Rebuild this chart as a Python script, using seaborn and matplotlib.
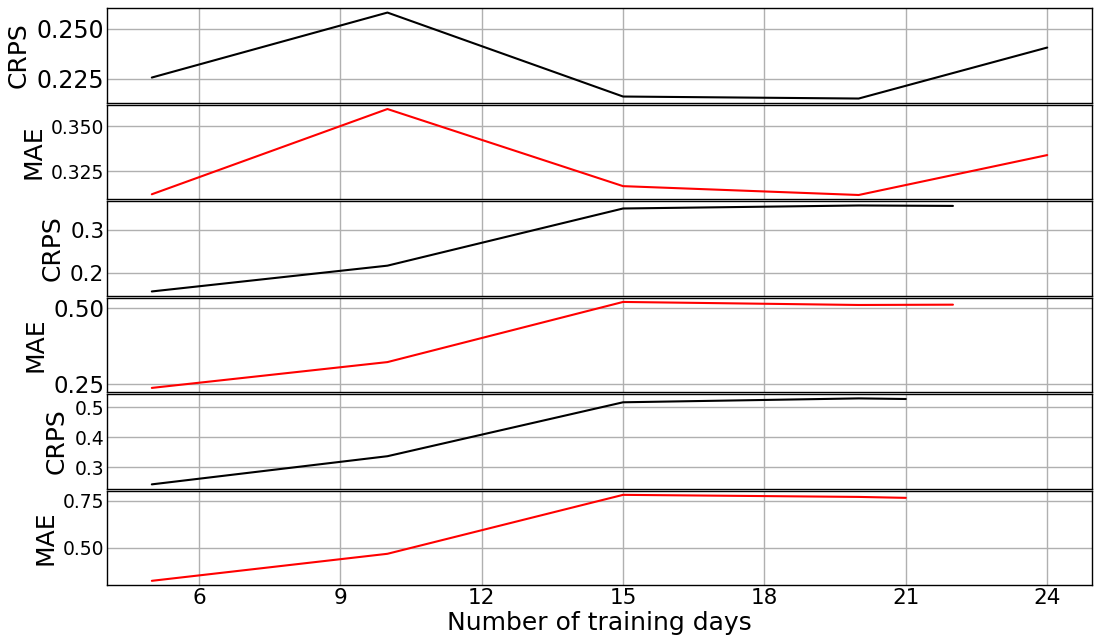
import matplotlib
matplotlib.use("Agg")
import matplotlib.pyplot as plt
import seaborn as sns
import pandas as pd

# Training-window lengths for the three experiments
days_a = [5, 10, 15, 20, 24]
days_b = [5, 10, 15, 20, 22]
days_c = [5, 10, 15, 20, 21]

# Scores per experiment
crps_a = [0.2255, 0.2580, 0.2160, 0.2150, 0.2405]
mae_a = [0.3122, 0.3594, 0.3167, 0.3118, 0.3339]
crps_b = [0.156, 0.216, 0.349, 0.356, 0.355]
mae_b = [0.237, 0.322, 0.520, 0.510, 0.511]
crps_c = [0.243, 0.337, 0.517, 0.530, 0.528]
mae_c = [0.324, 0.468, 0.782, 0.771, 0.766]

x_ticks = [6, 9, 12, 15, 18, 21, 24]

panels = [
    (days_a, crps_a, "CRPS", "black", [0.225, 0.250], "{:.3f}", 17.0),
    (days_a, mae_a, "MAE", "red", [0.325, 0.350], "{:.3f}", 13.5),
    (days_b, crps_b, "CRPS", "black", [0.2, 0.3], "{:.1f}", 15.5),
    (days_b, mae_b, "MAE", "red", [0.25, 0.50], "{:.2f}", 16.5),
    (days_c, crps_c, "CRPS", "black", [0.3, 0.4, 0.5], "{:.1f}", 13.5),
    (days_c, mae_c, "MAE", "red", [0.50, 0.75], "{:.2f}", 13.5),
]

sns.set_theme(style="whitegrid")
plt.rcParams["font.family"] = ["DejaVu Sans"]
plt.rcParams["axes.edgecolor"] = "black"
plt.rcParams["grid.color"] = "#b0b0b0"
plt.rcParams["text.color"] = "black"
plt.rcParams["axes.labelcolor"] = "black"
plt.rcParams["xtick.color"] = "black"
plt.rcParams["ytick.color"] = "black"

fig, axes = plt.subplots(6, 1, figsize=(10.98, 6.36), dpi=100, sharex=True)
fig.subplots_adjust(left=0.0975, right=0.9945, top=0.987, bottom=0.080, hspace=0.02)

for ax, (xs, ys, name, color, yt, fmt, tsize) in zip(axes, panels):
    df = pd.DataFrame({"days": xs, "value": ys})
    sns.lineplot(data=df, x="days", y="value", ax=ax, color=color, linewidth=1.5)
    ax.set_yticks(yt)
    ax.set_yticklabels([fmt.format(v) for v in yt], fontsize=tsize)
    ax.tick_params(axis="y", pad=2, length=0)
    ax.set_ylabel(name, fontsize=18, labelpad=4)
    ax.set_xlabel("")
    for sp in ax.spines.values():
        sp.set_color("black")
        sp.set_linewidth(1.0)
    ax.grid(True, color="#b0b0b0", linewidth=1.0)

axes[-1].set_xticks(x_ticks)
axes[-1].set_xticklabels([str(v) for v in x_ticks], fontsize=15.5)
axes[-1].tick_params(axis="x", pad=2, length=0)
axes[-1].set_xlabel("Number of training days", fontsize=18, labelpad=2)

fig.savefig("out.png", dpi=100)
